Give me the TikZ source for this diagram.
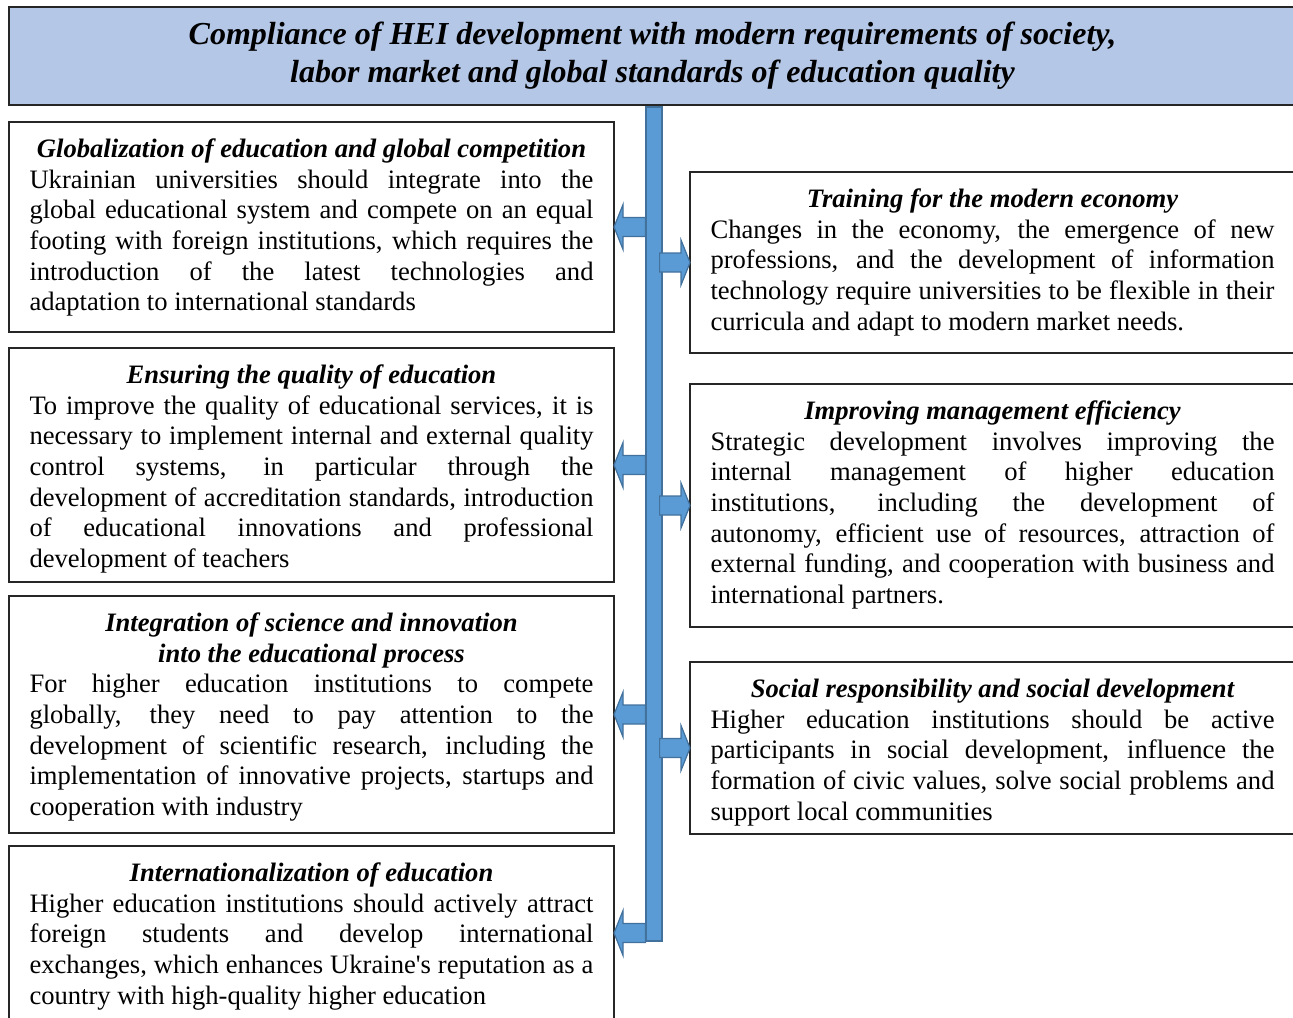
\documentclass[tikz,border=0pt]{standalone}
\usepackage{fontspec}
\setmainfont{Liberation Serif}
\usepackage{tikz}
\usetikzlibrary{calc}

\definecolor{headblue}{HTML}{B4C7E7}
\definecolor{trunkblue}{HTML}{5B9BD5}
\definecolor{trunkedge}{HTML}{41719C}

\tolerance=9999
\hyphenpenalty=10000
\newcommand{\bodysize}{\fontsize{13.3}{15.35}\selectfont}
\newcommand{\headsize}{\fontsize{16}{19}\selectfont}
\newcommand{\boxtitle}[1]{{\centering\bfseries\itshape\strut #1\par}}

\tikzset{
  header/.style={draw=black!85, line width=0.75pt, fill=headblue, minimum width=643.5pt, minimum height=49pt,
    inner sep=0pt, align=center, font=\headsize\bfseries\itshape},
  frame/.style={draw=black!85, line width=0.75pt, minimum width=302.5pt, inner sep=0pt, outer sep=0pt, anchor=north west},
  topic/.style={text width=282pt, inner xsep=0pt, inner ysep=6.75pt, anchor=north,
    align=justify, font=\bodysize},
  trunkbar/.style={draw=trunkedge, line width=0.6pt, fill=trunkblue, minimum width=8pt, inner sep=0pt},
  arrowleft/.style={draw=trunkedge, line width=0.6pt, fill=trunkblue,
    to path={let \p1=(\tikztostart), \p2=(\tikztotarget) in
      (\x1,\y1+4.75pt) -- (\x2+4.5pt,\y1+4.75pt) -- (\x2+4.5pt,\y1+11.25pt) -- (\x2,\y1)
      -- (\x2+4.5pt,\y1-11.25pt) -- (\x2+4.5pt,\y1-4.75pt) -- (\x1,\y1-4.75pt) -- cycle}},
  arrowright/.style={draw=trunkedge, line width=0.6pt, fill=trunkblue,
    to path={let \p1=(\tikztostart), \p2=(\tikztotarget) in
      (\x1,\y1+4.75pt) -- (\x2-4.5pt,\y1+4.75pt) -- (\x2-4.5pt,\y1+11.25pt) -- (\x2,\y1)
      -- (\x2-4.5pt,\y1-11.25pt) -- (\x2-4.5pt,\y1-4.75pt) -- (\x1,\y1-4.75pt) -- cycle}}
}

\begin{document}
\begin{tikzpicture}[x=0.5pt, y=-0.5pt]
        \useasboundingbox (0,0) rectangle (1293,1017);

        % Draw the heading
        \node[header] (head) at (652.5,56) {Compliance of HEI development with modern requirements of society,\\
          labor market and global standards of education quality};

        % Left column
        \node[frame, minimum height=105pt] (glob) at (9,122) {};
        \node[topic] (globtxt) at (glob.north) {\boxtitle{Globalization of education and global competition}
          Ukrainian universities should integrate into the\linebreak
          global educational system and compete on an equal\linebreak
          footing with foreign institutions, which requires the\linebreak
          introduction of the latest technologies and\linebreak
          adaptation to international standards};
        \node[frame, minimum height=117pt] (qual) at (9,348) {};
        \node[topic] (qualtxt) at (qual.north) {\boxtitle{Ensuring the quality of education}
          To improve the quality of educational services, it is\linebreak
          necessary to implement internal and external quality\linebreak
          control systems, in particular through the\linebreak
          development of accreditation standards, introduction\linebreak
          of educational innovations and professional\linebreak
          development of teachers};
        \node[frame, minimum height=118.5pt] (sci) at (9,596) {};
        \node[topic] (scitxt) at (sci.north) {\boxtitle{Integration of science and innovation\\ into the educational process}
          For higher education institutions to compete\linebreak
          globally, they need to pay attention to the\linebreak
          development of scientific research, including the\linebreak
          implementation of innovative projects, startups and\linebreak
          cooperation with industry};
        \node[frame, minimum height=87pt] (intl) at (9,846) {};
        \node[topic] (intltxt) at (intl.north) {\boxtitle{Internationalization of education}
          Higher education institutions should actively attract\linebreak
          foreign students and develop international\linebreak
          exchanges, which enhances Ukraine\textquotesingle s reputation as a\linebreak
          country with high-quality higher education};

        % Right column
        \node[frame, minimum height=90.5pt] (econ) at (690,172) {};
        \node[topic] (econtxt) at (econ.north) {\boxtitle{Training for the modern economy}
          Changes in the economy, the emergence of new\linebreak
          professions, and the development of information\linebreak
          technology require universities to be flexible in their\linebreak
          curricula and adapt to modern market needs.};
        \node[frame, minimum height=121.5pt] (mgmt) at (690,384) {};
        \node[topic] (mgmttxt) at (mgmt.north) {\boxtitle{Improving management efficiency}
          Strategic development involves improving the\linebreak
          internal management of higher education\linebreak
          institutions, including the development of\linebreak
          autonomy, efficient use of resources, attraction of\linebreak
          external funding, and cooperation with business and\linebreak
          international partners.};
        \node[frame, minimum height=86pt] (soc) at (690,662) {};
        \node[topic] (soctxt) at (soc.north) {\boxtitle{Social responsibility and social development}
          Higher education institutions should be active\linebreak
          participants in social development, influence the\linebreak
          formation of civic values, solve social problems and\linebreak
          support local communities};

        % Draw the trunk and the arrows
        \node[trunkbar, minimum height=417pt] (trunk) at (654,524) {};
        \foreach \t in {glob, qual, sci, intl}
          \draw[arrowleft] (trunk.west |- \t.east) to (\t.east);
        \foreach \t in {econ, mgmt, soc}
          \draw[arrowright] ([xshift=-1.5pt]trunk.east |- \t.west) to (\t.west);
    \end{tikzpicture}
\end{document}
